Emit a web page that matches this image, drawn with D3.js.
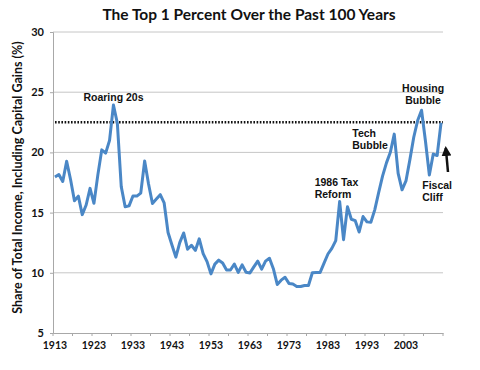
<!DOCTYPE html>
<html>
<head>
<meta charset="utf-8">
<script src="https://cdn.jsdelivr.net/npm/d3@7"></script>
<style>
  body { margin: 0; background: #fff; }
  text { font-family: Lato, "Open Sans", sans-serif; font-weight: bold; fill: #111; }
  .note { font-family: "Liberation Sans", Arial, sans-serif; font-weight: bold; }
</style>
</head>
<body>
<div id="chart"></div>
<script>
const years = d3.range(1913, 2013);
const share = [
  17.96, 18.16, 17.58, 19.27, 17.75, 15.98, 16.37, 14.83, 15.63, 17.01,
  15.77, 18.13, 20.21, 19.94, 21.0, 23.94, 22.42, 17.16, 15.48, 15.56,
  16.38, 16.37, 16.62, 19.29, 17.38, 15.76, 16.12, 16.49, 15.8, 13.35,
  12.31, 11.3, 12.51, 13.31, 11.96, 12.29, 11.86, 12.82, 11.6, 10.93,
  9.91, 10.72, 11.05, 10.82, 10.24, 10.23, 10.73, 10.03, 10.66, 10.04,
  9.99, 10.49, 10.97, 10.3, 10.97, 11.21, 10.34, 9.03, 9.39, 9.63,
  9.12, 9.07, 8.87, 8.86, 8.95, 8.95, 10.0, 10.02, 10.03, 10.8,
  11.56, 12.03, 12.67, 15.92, 12.75, 15.48, 14.45, 14.33, 13.39, 14.67,
  14.23, 14.2, 15.23, 16.66, 18.03, 19.13, 20.01, 21.52, 18.25, 16.89,
  17.63, 19.38, 21.26, 22.65, 23.5, 20.95, 18.12, 19.86, 19.74, 22.46
];
const yTicks = [5, 10, 15, 20, 25, 30];
const xLabelYears = [1913, 1923, 1933, 1943, 1953, 1963, 1973, 1983, 1993, 2003];
const referenceLevel = 22.5;
const notes = [
  { year: 1928, value: 24.25, lines: ["Roaring 20s"], anchor: "middle", dx: 0 },
  { year: 1986, value: 17.2, lines: ["1986 Tax", "Reform"], anchor: "start", dx: -25 },
  { year: 2000, value: 21.3, lines: ["Tech", "Bubble"], anchor: "start", dx: -42 },
  { year: 2007, value: 25.0, lines: ["Housing", "Bubble"], anchor: "middle", dx: 1.5 },
  { year: 2010, value: 16.95, lines: ["Fiscal", "Cliff"], anchor: "start", dx: -11 }
];

const width = 480, height = 370;
const margin = { top: 32, right: 37, bottom: 37, left: 53 };

const svg = d3.select("#chart").append("svg")
    .attr("width", width)
    .attr("height", height);

const x = d3.scaleBand()
    .domain(years)
    .range([margin.left, width - margin.right]);

const cx = d => x(d) + x.bandwidth() / 2;

const y = d3.scaleLinear()
    .domain([5, 30])
    .range([height - margin.bottom, margin.top]);

// title
svg.append("text")
    .attr("x", 249)
    .attr("y", 20)
    .attr("text-anchor", "middle")
    .attr("font-size", 15.5)
    .text("The Top 1 Percent Over the Past 100 Years");

// gridlines
svg.append("g")
    .selectAll("line")
    .data(yTicks.filter(d => d > 5))
    .join("line")
        .attr("x1", margin.left)
        .attr("x2", width - margin.right)
        .attr("y1", d => y(d))
        .attr("y2", d => y(d))
        .attr("stroke", "#c6c6c6")
        .attr("stroke-width", 1);

// y axis
const yAxis = svg.append("g")
    .attr("transform", `translate(${margin.left},0)`)
    .call(d3.axisLeft(y).tickValues(yTicks).tickSize(3).tickPadding(6));
yAxis.select(".domain").attr("stroke", "#a8a8a8");
yAxis.selectAll(".tick line").attr("stroke", "#a8a8a8");
yAxis.selectAll("text").attr("font-size", 11).attr("font-family", null);

// x axis
const xAxis = svg.append("g")
    .attr("transform", `translate(0,${height - margin.bottom})`)
    .call(d3.axisBottom(x)
        .tickValues(xLabelYears)
        .tickSize(0)
        .tickPadding(9));
xAxis.select(".domain").attr("stroke", "#a8a8a8");
xAxis.selectAll("text").attr("font-size", 10.5).attr("font-family", null);

// minor ticks every 5 categories, on category boundaries
svg.append("g")
    .selectAll("line")
    .data(years.filter((d, i) => i % 5 === 0).concat([2013]))
    .join("line")
        .attr("x1", d => d === 2013 ? width - margin.right : x(d))
        .attr("x2", d => d === 2013 ? width - margin.right : x(d))
        .attr("y1", height - margin.bottom)
        .attr("y2", height - margin.bottom + 3)
        .attr("stroke", "#a8a8a8");

// dotted reference line
svg.append("line")
    .attr("x1", margin.left + 2)
    .attr("x2", width - margin.right)
    .attr("y1", y(referenceLevel))
    .attr("y2", y(referenceLevel))
    .attr("stroke", "#111")
    .attr("stroke-width", 2.5)
    .attr("stroke-dasharray", "1.6,1.6");

// data line
const line = d3.line()
    .x((d, i) => cx(years[i]))
    .y(d => y(d));

svg.append("path")
    .datum(share)
    .attr("fill", "none")
    .attr("stroke", "#4a87c6")
    .attr("stroke-width", 3)
    .attr("stroke-linejoin", "round")
    .attr("d", line);

// annotations
const note = svg.append("g")
    .selectAll("text")
    .data(notes)
    .join("text")
        .attr("class", "note")
        .attr("x", d => cx(d.year) + d.dx)
        .attr("y", d => y(d.value))
        .attr("text-anchor", d => d.anchor)
        .attr("font-size", 10.5);
note.selectAll("tspan")
    .data(d => d.lines.map(l => ({ l, x: cx(d.year) + d.dx })))
    .join("tspan")
        .attr("x", d => d.x)
        .attr("dy", (d, i) => i === 0 ? 0 : 12)
        .text(d => d.l);

// arrow to fiscal cliff
svg.append("defs").append("marker")
    .attr("id", "head")
    .attr("viewBox", "0 0 10 10")
    .attr("refX", 8)
    .attr("refY", 5)
    .attr("markerWidth", 4)
    .attr("markerHeight", 4)
    .attr("orient", "auto")
    .append("path")
        .attr("d", "M0,0 L10,5 L0,10 Z")
        .attr("fill", "#111");

svg.append("line")
    .attr("x1", 448)
    .attr("y1", 172)
    .attr("x2", 445.8)
    .attr("y2", 148)
    .attr("stroke", "#111")
    .attr("stroke-width", 2.5)
    .attr("marker-end", "url(#head)");

// y axis title
svg.append("text")
    .attr("transform", `translate(22,${(margin.top + height - margin.bottom) / 2 - 5}) rotate(-90)`)
    .attr("text-anchor", "middle")
    .attr("font-size", 12.5)
    .text("Share of Total Income, Including Capital Gains (%)");
</script>
</body>
</html>
